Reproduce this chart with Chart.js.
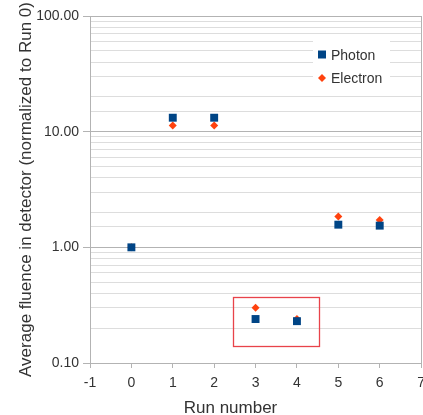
<!DOCTYPE html>
<html>
<head>
<meta charset="utf-8">
<script src="https://cdn.jsdelivr.net/npm/chart.js@4/dist/chart.umd.min.js"></script>
<style>
  html, body { margin: 0; padding: 0; background: #ffffff; overflow: hidden; }
  #wrap { width: 423px; height: 415px; overflow: hidden; position: relative; }
  #c { position: absolute; left: 0; top: 0; }
</style>
</head>
<body>
<div id="wrap"><canvas id="c" width="432" height="415"></canvas></div>
<script>
// Average fluence per run, normalized to run 0
const runs = [0, 1, 2, 3, 4, 5, 6];
const photon = [1.00, 13.2, 13.2, 0.24, 0.23, 1.57, 1.54];
const electron = [1.00, 11.3, 11.3, 0.30, 0.24, 1.85, 1.72];
const seriesNames = ['Photon', 'Electron'];
const xRange = [-1, 7];
const yRange = [0.1, 100];
const yMajorTicks = [0.1, 1, 10, 100];
// boxed region around runs 3 and 4
const boxRuns = [2.45, 4.53];
const boxValues = [0.14, 0.37];

const FONT = '"Liberation Sans", Arial, sans-serif';
const TEXT = '#333333';
const MAJOR = '#b3b3b3';
const MINOR = '#dddddd';

const isMajor = v => yMajorTicks.some(t => Math.abs(t - v) < 1e-9);

const toPoints = vals => runs.map((r, i) => ({ x: r, y: vals[i] }));

const extras = {
  id: 'extras',
  afterDraw(chart) {
    const { ctx, scales: { x, y } } = chart;
    ctx.save();

    // red highlight box
    const x0 = x.getPixelForValue(boxRuns[0]);
    const x1 = x.getPixelForValue(boxRuns[1]);
    const y0 = y.getPixelForValue(boxValues[1]);
    const y1 = y.getPixelForValue(boxValues[0]);
    ctx.strokeStyle = '#e8434a';
    ctx.lineWidth = 1.3;
    ctx.strokeRect(Math.round(x0) + 0.5, Math.round(y0) + 0.5, Math.round(x1 - x0), Math.round(y1 - y0));

    // legend inside the plot
    const lx = 313, ly = 37, lw = 77, lh = 53;
    ctx.fillStyle = '#ffffff';
    ctx.fillRect(lx, ly, lw, lh);
    ctx.font = '14px ' + FONT;
    ctx.textBaseline = 'alphabetic';
    ctx.textAlign = 'left';
    chart.data.datasets.forEach((ds, i) => {
      const cy = 54.5 + i * 23.5;
      ctx.fillStyle = ds.backgroundColor;
      ctx.beginPath();
      if (ds.pointStyle === 'rect') {
        ctx.rect(318, cy - 4, 8, 8);
      } else {
        ctx.moveTo(322, cy - 4);
        ctx.lineTo(326, cy);
        ctx.lineTo(322, cy + 4);
        ctx.lineTo(318, cy);
        ctx.closePath();
      }
      ctx.fill();
      ctx.fillStyle = TEXT;
      ctx.fillText(ds.label, 331, cy + 5);
    });

    // x axis title
    ctx.font = '17px ' + FONT;
    ctx.fillStyle = TEXT;
    ctx.textAlign = 'center';
    ctx.fillText('Run number', 230.5, 413);
    ctx.restore();
  }
};

new Chart(document.getElementById('c'), {
  type: 'scatter',
  data: {
    datasets: [
      {
        label: seriesNames[0],
        data: toPoints(photon),
        pointStyle: 'rect',
        pointRadius: 5.6,
        pointHoverRadius: 5.6,
        backgroundColor: '#004586',
        borderColor: '#004586',
        borderWidth: 0
      },
      {
        label: seriesNames[1],
        data: toPoints(electron),
        pointStyle: 'rectRot',
        pointRadius: 4,
        pointHoverRadius: 4,
        backgroundColor: '#ff420e',
        borderColor: '#ff420e',
        borderWidth: 0
      }
    ]
  },
  options: {
    responsive: false,
    animation: false,
    devicePixelRatio: 1,
    layout: { padding: { top: 16, right: 2, left: 0, bottom: 0 } },
    plugins: {
      legend: { display: false },
      tooltip: { enabled: false }
    },
    scales: {
      x: {
        type: 'linear',
        min: xRange[0],
        max: xRange[1],
        ticks: {
          stepSize: 1,
          color: TEXT,
          font: { family: FONT, size: 14 },
          padding: 7
        },
        grid: {
          color: c => (c.tick && c.tick.value === xRange[1]) ? MAJOR : 'rgba(0,0,0,0)',
          tickColor: MAJOR,
          tickLength: 5
        },
        border: { color: MAJOR },
        afterFit(scale) {
          scale.height = 52;
        }
      },
      y: {
        type: 'logarithmic',
        min: yRange[0],
        max: yRange[1],
        ticks: {
          autoSkip: false,
          color: TEXT,
          font: { family: FONT, size: 14 },
          padding: 4,
          callback: v => isMajor(v) ? v.toFixed(2) : ''
        },
        grid: {
          color: c => (c.tick && isMajor(c.tick.value)) ? MAJOR : MINOR,
          tickColor: c => (c.tick && isMajor(c.tick.value)) ? MAJOR : 'rgba(0,0,0,0)',
          tickLength: 7
        },
        border: { color: MAJOR },
        title: {
          display: true,
          text: 'Average fluence in detector (normalized to Run 0)',
          color: TEXT,
          font: { family: FONT, size: 17 },
          padding: { top: 16, bottom: 0 }
        },
        afterFit(scale) {
          scale.width = 90;
        }
      }
    }
  },
  plugins: [extras]
});
</script>
</body>
</html>
